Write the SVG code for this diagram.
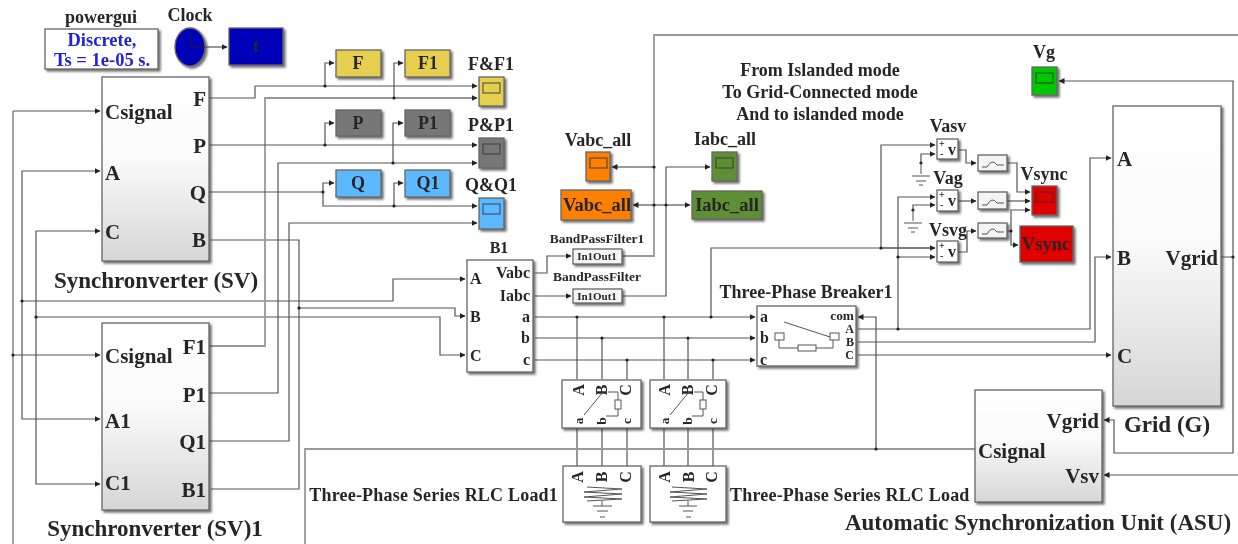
<svg xmlns="http://www.w3.org/2000/svg" width="1238" height="544" viewBox="0 0 1238 544">
<style>
text{font-family:"Liberation Serif","Times New Roman",serif;font-weight:bold;fill:#262626}
.s20{font-size:23px}.s18{font-size:21px}.s17{font-size:18.5px}.s16{font-size:18px}.s14{font-size:16px}.s12{font-size:13.4px}.s11{font-size:11px}.s10{font-size:10px}.s9{font-size:12px}
.m{text-anchor:middle}.e{text-anchor:end}
.ls{letter-spacing:.2px}
.w{fill:none;stroke:#555;stroke-width:1.2}
.l{fill:none;stroke:#999;stroke-width:1.8}
.a{marker-end:url(#ah)}
.d{fill:#222}
.b{stroke:#666;stroke-width:1.3;filter:url(#sh)}
.i{fill:none;stroke:#555;stroke-width:1}
</style>
<defs>
<marker id="ah" viewBox="0 0 6 6" refX="5.5" refY="3" markerWidth="6" markerHeight="6" markerUnits="userSpaceOnUse" orient="auto"><path d="M0 0L6 3L0 6z" fill="#222"/></marker>
<linearGradient id="g" x1="0" y1="0" x2="0" y2="1"><stop offset="0" stop-color="#fff"/><stop offset=".45" stop-color="#fafafa"/><stop offset="1" stop-color="#d6d6d6"/></linearGradient>
<filter id="sh" x="-20%" y="-20%" width="150%" height="150%"><feDropShadow dx="2" dy="2" stdDeviation="1.2" flood-color="#333" flood-opacity=".7"/></filter>
<filter id="bl" x="0" y="0" width="100%" height="100%"><feGaussianBlur stdDeviation=".5"/></filter>
<g id="scr"><rect x="4" y="6" width="17" height="10" fill="none" stroke="#333" stroke-opacity=".75" stroke-width="1.2"/></g>
</defs>
<rect width="1238" height="544" fill="#fff"/>
<g filter="url(#bl)">
<g id="connectors">
<path class="w a" d="M205 47H227"/>
<path class="l" d="M13 111V544"/>
<path class="w a" d="M13 111H100"/><path class="w a" d="M13 355H100"/>
<path class="w a" d="M22 301V171H100"/><path class="w a" d="M22 301V419H100"/>
<path class="w a" d="M36 317V231H100"/><path class="w a" d="M36 317V484H100"/>
<path class="w a" d="M22 301H393V279H465"/>
<path class="w a" d="M36 317H440V355H465"/>
<path class="w a" d="M299 308H455V316H465"/>
<path class="w" d="M211 240H299V489H211"/>
<path class="w a" d="M209 98H255V86H477"/><path class="w a" d="M325 86V63H334"/>
<path class="l a" d="M209 346H265V98H477"/><path class="w a" d="M394 98V63H403"/>
<path class="w a" d="M209 145H477"/><path class="w a" d="M325 145V123H334"/>
<path class="w a" d="M209 393H278V163H477"/><path class="w a" d="M393 163V123H403"/>
<path class="w a" d="M209 192H323V183H334"/><path class="w a" d="M323 192V206H477"/><path class="w a" d="M394 206V183H403"/>
<path class="w a" d="M209 441H289V223H477"/>
<path class="w a" d="M535 273H547V256H571"/><path class="w a" d="M535 296H571"/>
<path class="l" d="M622 256H654V35H1238"/><path class="l a" d="M654 167H612"/><path class="w a" d="M654 205H633"/>
<path class="w a" d="M622 296H666V167H710"/><path class="w a" d="M666 205H690"/><path class="w" d="M654 205H666"/>
<path class="w a" d="M535 317H755"/><path class="w a" d="M535 338H755"/><path class="w a" d="M535 360H755"/>
<path class="w" d="M577 317V379M602 338V379M627 360V379M664 317V379M688 338V379M713 360V379"/>
<path class="w" d="M577 428V466M602 428V466M627 428V466M664 428V466M688 428V466M713 428V466"/>
<path class="w" d="M711 317V248H935"/><path class="w a" d="M881 248V145H935"/><path class="w a" d="M881 248H935"/>
<path class="w a" d="M858 329H1090V158H1111"/>
<path class="w a" d="M898 329V197H935"/><path class="w a" d="M898 257H935"/>
<path class="w a" d="M858 342H1095V257H1111"/>
<path class="w a" d="M858 355H1111"/>
<path class="l" d="M975 449H305V544"/>
<path class="w a" d="M876 449V317H858"/>
<path class="w a" d="M1221 257H1233V81H1059"/>
<path class="w a" d="M1233 257V453H1114V420H1104"/>
<path class="w a" d="M1238 475H1104"/>
<path class="w a" d="M921 163V154H935"/><path class="w a" d="M913 210V205H935"/>
<path class="w a" d="M958 150H966V163H976"/><path class="w a" d="M958 201H976"/><path class="w a" d="M958 252H967V231H976"/>
<path class="w a" d="M1007 163H1017V192H1030"/><path class="w a" d="M1007 201H1030"/>
<path class="w a" d="M1007 231H1011V210H1030"/><path class="w a" d="M1011 231V245H1018"/>
<g class="d">
<circle cx="13" cy="355" r="1.6"/><circle cx="22" cy="301" r="1.6"/><circle cx="36" cy="317" r="1.6"/><circle cx="299" cy="308" r="1.6"/>
<circle cx="325" cy="86" r="1.6"/><circle cx="394" cy="98" r="1.6"/><circle cx="325" cy="145" r="1.6"/><circle cx="393" cy="163" r="1.6"/><circle cx="323" cy="192" r="1.6"/><circle cx="394" cy="206" r="1.6"/>
<circle cx="654" cy="167" r="1.6"/><circle cx="654" cy="205" r="1.6"/><circle cx="666" cy="205" r="1.6"/>
<circle cx="577" cy="317" r="1.6"/><circle cx="602" cy="338" r="1.6"/><circle cx="627" cy="360" r="1.6"/><circle cx="664" cy="317" r="1.6"/><circle cx="688" cy="338" r="1.6"/><circle cx="713" cy="360" r="1.6"/><circle cx="711" cy="317" r="1.6"/>
<circle cx="881" cy="248" r="1.6"/><circle cx="898" cy="329" r="1.6"/><circle cx="898" cy="257" r="1.6"/><circle cx="876" cy="449" r="1.6"/><circle cx="1233" cy="257" r="1.6"/><circle cx="921" cy="163" r="1.6"/><circle cx="913" cy="210" r="1.6"/><circle cx="1011" cy="231" r="1.6"/>
</g>
</g>
<g id="powergui"><rect class="b" x="45" y="29" width="113" height="40" fill="#fff"/><text class="s16 m" x="101" y="23">powergui</text><text class="s17 m" x="102" y="46" style="fill:#2222dd">Discrete,</text><text class="s17 m" x="102" y="66" style="fill:#2222dd">Ts = 1e-05 s.</text></g>
<g id="clock"><ellipse class="b" cx="190" cy="47" rx="15" ry="19" fill="#0000b8"/><path d="M191 32V47H205" fill="none" stroke="#223" stroke-width="1"/><text class="s16 m" x="190" y="21">Clock</text></g>
<g id="t"><rect class="b" x="229" y="28" width="54" height="37" fill="#0000b8"/><text class="s16 m" x="256" y="52">t</text></g>
<g id="sv"><rect class="b" x="102" y="77" width="107" height="184" fill="url(#g)"/><text class="s18" x="105" y="119">Csignal</text><text class="s18" x="105" y="180">A</text><text class="s18" x="105" y="239">C</text><text class="s18 e" x="206" y="106">F</text><text class="s18 e" x="206" y="153">P</text><text class="s18 e" x="206" y="200">Q</text><text class="s18 e" x="206" y="247">B</text><text class="s20 m" x="156" y="288">Synchronverter (SV)</text></g>
<g id="sv1"><rect class="b" x="102" y="323" width="107" height="187" fill="url(#g)"/><text class="s18" x="105" y="363">Csignal</text><text class="s18" x="105" y="428">A1</text><text class="s18" x="105" y="490">C1</text><text class="s18 e" x="206" y="354">F1</text><text class="s18 e" x="206" y="402">P1</text><text class="s18 e" x="206" y="449">Q1</text><text class="s18 e" x="206" y="497">B1</text><text class="s20 m" x="155" y="536">Synchronverter (SV)1</text></g>
<g id="F"><rect class="b" x="336" y="50" width="45" height="27" fill="#e6cf4f"/><text class="s16 m" x="358" y="69">F</text></g>
<g id="F1"><rect class="b" x="405" y="50" width="45" height="27" fill="#e6cf4f"/><text class="s16 m" x="428" y="69">F1</text></g>
<g id="P"><rect class="b" x="336" y="110" width="45" height="26" fill="#777"/><text class="s16 m" x="358" y="129">P</text></g>
<g id="P1"><rect class="b" x="405" y="110" width="45" height="26" fill="#777"/><text class="s16 m" x="428" y="129">P1</text></g>
<g id="Q"><rect class="b" x="336" y="170" width="45" height="27" fill="#5bb8ff"/><text class="s16 m" x="358" y="189">Q</text></g>
<g id="Q1"><rect class="b" x="405" y="170" width="45" height="27" fill="#5bb8ff"/><text class="s16 m" x="428" y="189">Q1</text></g>
<g id="FF1"><rect class="b" x="479" y="77" width="25" height="29" fill="#e6cf4f"/><use href="#scr" x="479" y="77"/><text class="s16 m" x="491" y="70">F&amp;F1</text></g>
<g id="PP1"><rect class="b" x="479" y="138" width="25" height="30" fill="#777"/><use href="#scr" x="479" y="138"/><text class="s16 m" x="491" y="131">P&amp;P1</text></g>
<g id="QQ1"><rect class="b" x="479" y="198" width="25" height="31" fill="#5bb8ff"/><use href="#scr" x="479" y="198"/><text class="s16 m" x="491" y="191">Q&amp;Q1</text></g>
<g id="VabcScope"><rect class="b" x="586" y="152" width="24" height="29" fill="#ff8000"/><use href="#scr" x="586" y="152"/><text class="s16 m" x="598" y="146">Vabc_all</text></g>
<g id="VabcGoto"><rect class="b" x="561" y="190" width="70" height="30" fill="#ff8000"/><text class="s17 m" x="597" y="211">Vabc_all</text></g>
<g id="IabcScope"><rect class="b" x="712" y="152" width="25" height="29" fill="#5f8f35"/><use href="#scr" x="712" y="152"/><text class="s16 m" x="725" y="145">Iabc_all</text></g>
<g id="IabcGoto"><rect class="b" x="692" y="191" width="70" height="28" fill="#5f8f35"/><text class="s17 m" x="727" y="211">Iabc_all</text></g>
<g id="B1"><rect class="b" x="467" y="260" width="66" height="112" fill="#fff"/><text class="s14 m" x="499" y="253">B1</text><text class="s14" x="470" y="284">A</text><text class="s14" x="470" y="322">B</text><text class="s14" x="470" y="361">C</text><text class="s14 e" x="530" y="278">Vabc</text><text class="s14 e" x="530" y="301">Iabc</text><text class="s14 e" x="530" y="322">a</text><text class="s14 e" x="530" y="343">b</text><text class="s14 e" x="530" y="365">c</text></g>
<g id="BPF1"><rect class="b" x="573" y="249" width="49" height="15" fill="#f4f4f4"/><text class="s11 m" x="597" y="260">In1Out1</text><text class="s12 m" x="597" y="243">BandPassFilter1</text></g>
<g id="BPF"><rect class="b" x="573" y="289" width="49" height="14" fill="#f4f4f4"/><text class="s11 m" x="597" y="300">In1Out1</text><text class="s12 m" x="597" y="281">BandPassFilter</text></g>
<g id="note"><text class="s16 m" x="820" y="76">From Islanded mode</text><text class="s16 m" x="820" y="98">To Grid-Connected mode</text><text class="s16 m" x="820" y="120">And to islanded mode</text></g>
<g id="Breaker1"><rect class="b" x="757" y="306" width="99" height="60" fill="#fff"/><text class="s16 m" x="806" y="298">Three-Phase Breaker1</text><text class="s14" x="760" y="322">a</text><text class="s14" x="760" y="343">b</text><text class="s14" x="760" y="365">c</text><text class="s12 e" x="854" y="320">com</text><text class="s9 e" x="854" y="333">A</text><text class="s9 e" x="854" y="346">B</text><text class="s9 e" x="854" y="359">C</text><path class="i" d="M784 322L830 337M779 340V348H798M816 348H833V340"/><rect class="i" x="775" y="333" width="9" height="7"/><rect class="i" x="830" y="333" width="9" height="7"/><rect class="i" x="798" y="345" width="18" height="6"/></g>
<g id="Brk2"><rect class="b" x="562" y="380" width="79" height="48" fill="#fff"/><text class="s14 m" transform="translate(584,390) rotate(-90)">A</text><text class="s14 m" transform="translate(607,390) rotate(-90)">B</text><text class="s14 m" transform="translate(631,390) rotate(-90)">C</text><text class="s12 m" transform="translate(583,421) rotate(-90)">a</text><text class="s12 m" transform="translate(606,421) rotate(-90)">b</text><text class="s12 m" transform="translate(631,421) rotate(-90)">c</text><path class="i" d="M584 415L603 392M608 392H618V400M618 409V416H606"/><rect class="i" x="615" y="400" width="6" height="9"/></g>
<g id="Brk3"><rect class="b" x="650" y="380" width="76" height="48" fill="#fff"/><text class="s14 m" transform="translate(670,390) rotate(-90)">A</text><text class="s14 m" transform="translate(693,390) rotate(-90)">B</text><text class="s14 m" transform="translate(717,390) rotate(-90)">C</text><text class="s12 m" transform="translate(669,421) rotate(-90)">a</text><text class="s12 m" transform="translate(692,421) rotate(-90)">b</text><text class="s12 m" transform="translate(717,421) rotate(-90)">c</text><path class="i" d="M670 415L689 392M694 392H703V400M703 409V416H692"/><rect class="i" x="700" y="400" width="6" height="9"/></g>
<g id="Load1"><rect class="b" x="563" y="466" width="78" height="56" fill="#fff"/><text class="s14 m" transform="translate(583,477) rotate(-90)">A</text><text class="s14 m" transform="translate(607,477) rotate(-90)">B</text><text class="s14 m" transform="translate(631,477) rotate(-90)">C</text><path class="i" d="M587 487L622 489L584 492L622 494L584 497L622 499L587 501M602 501V506M593 506H612M597 511H608M600 517H605" stroke-width="1.2"/><text class="s16 e ls" x="558" y="501">Three-Phase Series RLC Load1</text></g>
<g id="Load"><rect class="b" x="650" y="466" width="76" height="56" fill="#fff"/><text class="s14 m" transform="translate(670,477) rotate(-90)">A</text><text class="s14 m" transform="translate(694,477) rotate(-90)">B</text><text class="s14 m" transform="translate(717,477) rotate(-90)">C</text><path class="i" d="M672 487L707 489L670 492L707 494L670 497L707 499L672 501M688 501V506M679 506H697M683 511H693M686 517H691" stroke-width="1.2"/><text class="s16 ls" x="730" y="501">Three-Phase Series RLC Load</text></g>
<g id="ASU"><rect class="b" x="975" y="390" width="127" height="112" fill="url(#g)"/><text class="s18" x="978" y="458">Csignal</text><text class="s18 e" x="1099" y="428">Vgrid</text><text class="s18 e" x="1099" y="483">Vsv</text><text class="s20 m" x="1038" y="530">Automatic Synchronization Unit (ASU)</text></g>
<g id="Grid"><rect class="b" x="1113" y="106" width="108" height="300" fill="url(#g)"/><text class="s18" x="1117" y="166">A</text><text class="s18" x="1117" y="265">B</text><text class="s18" x="1117" y="363">C</text><text class="s18 e" x="1218" y="265">Vgrid</text><text class="s20 m" x="1167" y="432">Grid (G)</text></g>
<g id="Vg"><rect class="b" x="1032" y="67" width="25" height="28" fill="#00c800"/><use href="#scr" x="1032" y="67"/><text class="s16 m" x="1044" y="58">Vg</text></g>
<g id="Vasv"><rect class="b" x="937" y="139" width="21" height="20" fill="#fff"/><text class="s14" x="948" y="155">v</text><text class="s10" x="939" y="147">+</text><text class="s10" x="940" y="157">-</text><text class="s16 m" x="948" y="132">Vasv</text><path class="i" d="M921 163V174M912 176H930M916 181H926M919 185H923"/></g>
<g id="Vag"><rect class="b" x="937" y="190" width="21" height="21" fill="#fff"/><text class="s14" x="948" y="206">v</text><text class="s10" x="939" y="198">+</text><text class="s10" x="940" y="208">-</text><text class="s16 m" x="948" y="184">Vag</text><path class="i" d="M913 210V221M904 223H922M908 228H918M911 232H915"/></g>
<g id="Vsvg"><rect class="b" x="937" y="241" width="21" height="21" fill="#fff"/><text class="s14" x="948" y="257">v</text><text class="s10" x="939" y="249">+</text><text class="s10" x="940" y="259">-</text><text class="s16 m" x="948" y="236">Vsvg</text></g>
<g id="Fa"><rect class="b" x="978" y="155" width="29" height="16" fill="#f4f4f4"/><path class="i" d="M982 167H987Q992 158 997 165H1004"/></g>
<g id="Fb"><rect class="b" x="978" y="192" width="29" height="17" fill="#f4f4f4"/><path class="i" d="M982 205H987Q992 196 997 203H1004"/></g>
<g id="Fc"><rect class="b" x="978" y="223" width="29" height="15" fill="#f4f4f4"/><path class="i" d="M982 234H987Q992 225 997 232H1004"/></g>
<g id="VsyncScope"><rect class="b" x="1032" y="186" width="25" height="29" fill="#e00000"/><use href="#scr" x="1032" y="186"/><text class="s16 m" x="1044" y="180">Vsync</text></g>
<g id="VsyncGoto"><rect class="b" x="1020" y="226" width="53" height="36" fill="#e00000"/><text class="s17 m" x="1046" y="250">Vsync</text></g>
</g>
</svg>
